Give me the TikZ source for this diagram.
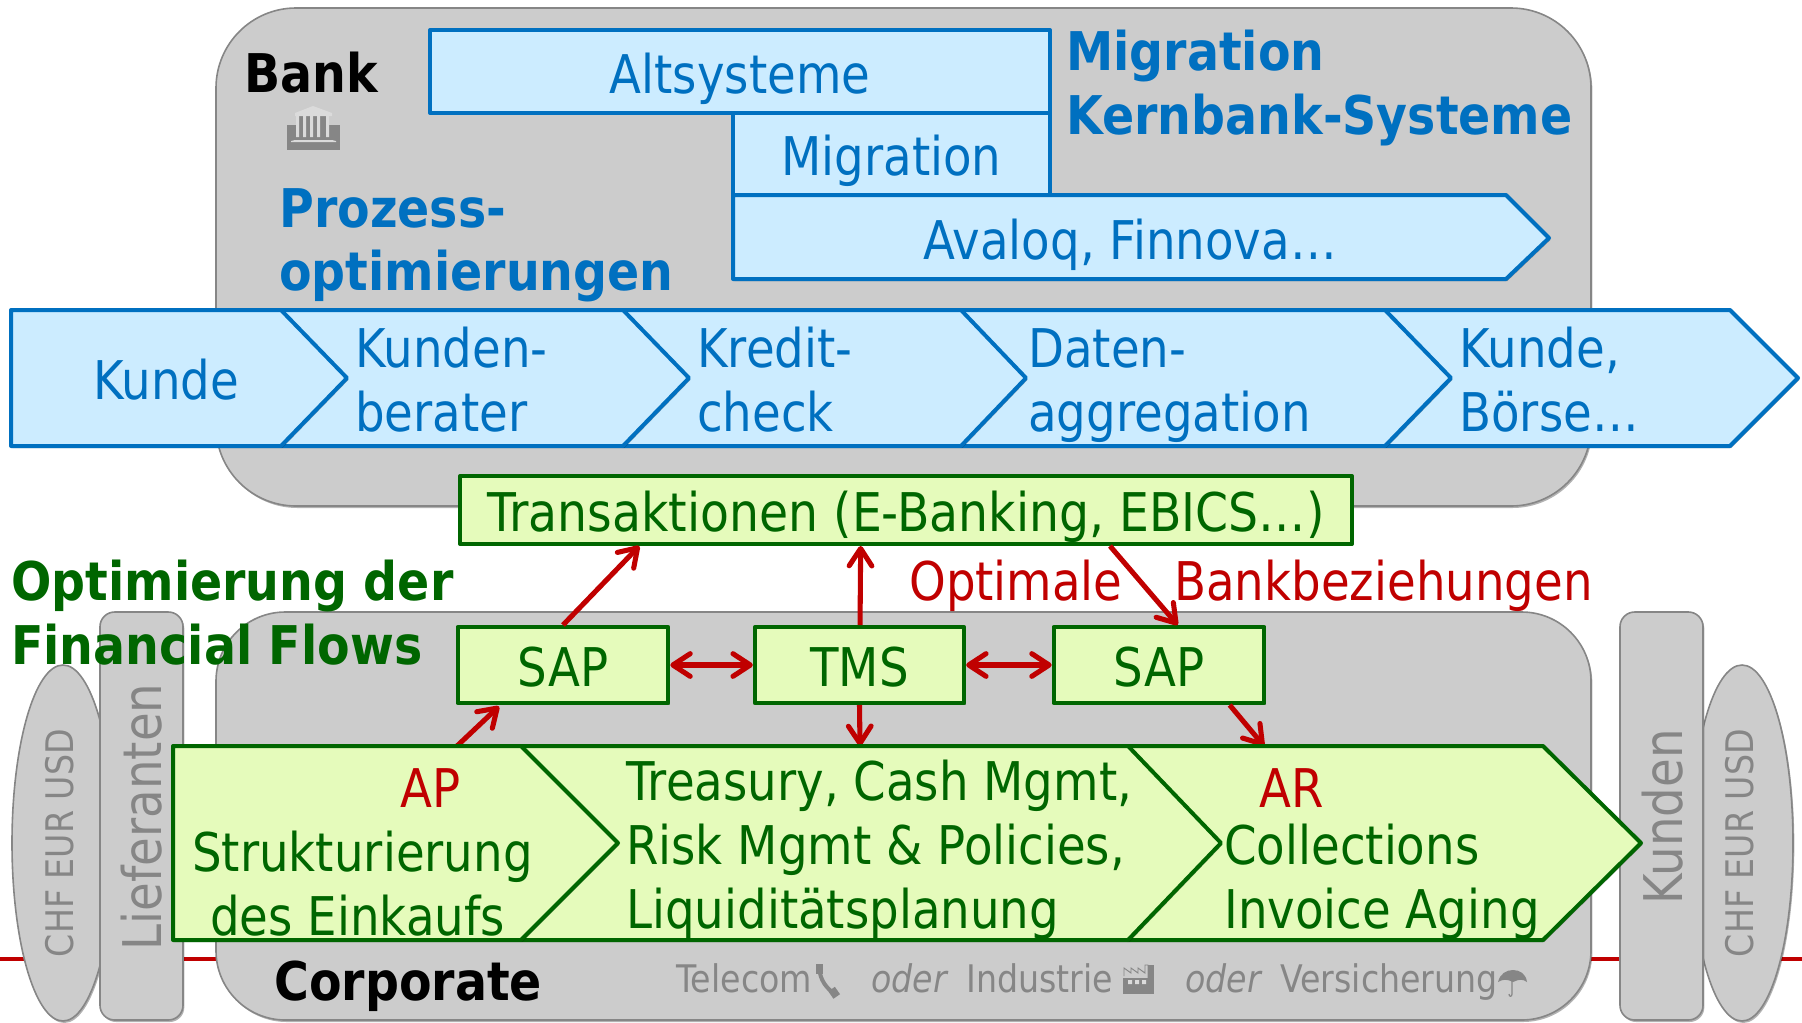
\documentclass[tikz,border=0pt]{standalone}
\usepackage{fontspec}
\setmainfont[FakeStretch=0.875,BoldFeatures={FakeStretch=0.89}]{DejaVu Sans}
\newfontfamily\widerfont[FakeStretch=0.887]{DejaVu Sans}
\usetikzlibrary{arrows.meta,shadows,calc}
\definecolor{cblue}{HTML}{0070C0}
\definecolor{fblue}{HTML}{CCECFF}
\definecolor{cgreen}{HTML}{006600}
\definecolor{fgreen}{HTML}{E5FBBB}
\definecolor{cgray}{HTML}{868686}
\definecolor{fgray}{HTML}{CCCCCC}
\definecolor{cred}{HTML}{C00000}
\tikzset{
  soft/.style={drop shadow={shadow xshift=1pt,shadow yshift=-1.5pt,opacity=.3,fill=black}},
  txt/.style={anchor=base west,inner sep=0pt,font=\fontsize{40}{48}\selectfont},
  txtc/.style={anchor=base,inner sep=0pt,font=\fontsize{40}{48}\selectfont},
  bold/.style={font=\fontsize{40}{48}\selectfont\bfseries},
  small/.style={font=\fontsize{28.5}{34}\selectfont},
  graybox/.style={draw=cgray,fill=fgray,line width=1.2pt},
  bluebox/.style={draw=cblue,fill=fblue,line width=3pt,soft,line join=round},
  greenbox/.style={draw=cgreen,fill=fgreen,line width=3pt,soft,line join=round},
  bluenode/.style={bluebox,rectangle,inner sep=0pt,text=cblue,font=\fontsize{40}{48}\selectfont,text height=34pt,text depth=1.7pt},
  greennode/.style={greenbox,rectangle,inner sep=0pt,text=cgreen,font=\fontsize{40}{48}\selectfont,text height=34pt,text depth=1.7pt},
  redline/.style={draw=cred,line width=3.8pt,-{Straight Barb[length=13pt,width=17pt,round,line width=3.8pt]}},
  redboth/.style={draw=cred,line width=3.8pt,{Straight Barb[length=13pt,width=17pt,round,line width=3.8pt]}-{Straight Barb[length=13pt,width=17pt,round,line width=3.8pt]}},
  vert/.style={inner sep=0pt,text=cgray,rotate=90,anchor=center}
}
\begin{document}
\begin{tikzpicture}[x=0.75pt,y=-0.75pt]
\useasboundingbox (0,0) rectangle (1802,1022);
% red horizon line
\draw[cred,line width=3pt] (0,959) -- (1802,959);
% big containers
\path[graybox,soft,rounded corners=60pt] (216,8) rectangle (1591,506);
\path[graybox,soft,rounded corners=52pt] (216,612) rectangle (1591,1020);
% side shapes
\path[graybox,soft] (63,843) ellipse [x radius=51,y radius=178];
\path[graybox,soft] (1742,843) ellipse [x radius=51,y radius=178];
\path[graybox,soft,rounded corners=11pt] (100,612) rectangle (183,1020);
\path[graybox,soft,rounded corners=11pt] (1620,612) rectangle (1703,1020);
% Bank top blocks
\node[bluenode,minimum width=465pt,minimum height=62pt] (alt) at (740,71.5) {Altsysteme};
\node[bluenode,minimum width=237.75pt,minimum height=61.5pt] (mig) at (891.5,154) {Migration};
\path[bluebox] (733,195) -- (1506,195) -- (1549,238) -- (1506,279) -- (733,279) -- cycle;
\node[txtc,text=cblue] (ava) at (1130,259) {Avaloq, Finnova…};
% labels
\node[txt,bold] (bank) at (244,92) {Bank};
\node[txt,bold,text=cblue] (pro1) at (279,227) {Prozess-};
\node[txt,bold,text=cblue] (pro2) at (279,290) {optimierungen};
\node[txt,bold,text=cblue] (mk1) at (1066,70) {Migration};
\node[txt,bold,text=cblue] (mk2) at (1066,134) {Kernbank-Systeme};
% bank icon
\fill[cgray] (287,125) rectangle (340,150);
\fill[fgray!70!white] (295,140) -- (332,140) -- (336,141) -- (336,142) -- (291,142) -- (291,141) -- cycle;
\fill[cgray] (297,116) rectangle (329,140);
\fill[fgray!70!white] (295,113) -- (313,106) -- (332,113) -- (332,116) -- (295,116) -- cycle;
\fill[fgray!70!white] (303,116) rectangle (306,137) (310,116) rectangle (313,137) (317,116) rectangle (320,137) (326,116) rectangle (329,137) (296,116) rectangle (299,137);
% process chain (later ones behind)
\path[bluebox] (1385,310) -- (1730,310) -- (1798,378) -- (1730,446) -- (1385,446) -- cycle;
\path[bluebox] (961,310) -- (1385,310) -- (1451,378) -- (1385,446) -- (961,446) -- cycle;
\path[bluebox] (623,310) -- (961,310) -- (1026,378) -- (961,446) -- (623,446) -- cycle;
\path[bluebox] (281,310) -- (623,310) -- (689,378) -- (623,446) -- (281,446) -- cycle;
\path[bluebox] (11,310) -- (281,310) -- (347,378) -- (281,446) -- (11,446) -- cycle;
\node[txt,text=cblue] (k1) at (93,399) {Kunde};
\node[txt,text=cblue] (k2a) at (355,367) {Kunden-};
\node[txt,text=cblue] (k2b) at (355,431) {berater};
\node[txt,text=cblue] (k3a) at (697,367) {Kredit-};
\node[txt,text=cblue] (k3b) at (697,431) {check};
\node[txt,text=cblue] (k4a) at (1028,367) {Daten-};
\node[txt,text=cblue] (k4b) at (1028,431) {aggregation};
\node[txt,text=cblue] (k5a) at (1459,367) {Kunde,};
\node[txt,text=cblue] (k5b) at (1459,431) {Börse…};
% coordinates on the lower chain
\coordinate (apTop) at (457,746);
\coordinate (tsTop) at (860,746);
\coordinate (arTop) at (1264,746);
% corporate boxes
\node[greennode,minimum width=669pt,minimum height=51pt] (trans) at (906,510) {\widerfont Transaktionen (E-Banking, EBICS…)};
\node[greennode,minimum width=158pt,minimum height=57pt] (sapa) at (563,665) {SAP};
\node[greennode,minimum width=157pt,minimum height=57pt] (tms) at (859.5,665) {TMS};
\node[greennode,minimum width=158pt,minimum height=57pt] (sapb) at (1159,665) {SAP};
% connectors
\draw[redline] (sapa.north) -- ([xshift=-200pt]trans.south);
\draw[redline] ([xshift=0.4pt]tms.north) -- ([xshift=-34pt]trans.south);
\draw[redline] ([xshift=153pt]trans.south) -- ([xshift=14pt]sapb.north);
\draw[redboth] (sapa.east) -- (tms.west);
\draw[redboth] (tms.east) -- (sapb.west);
\draw[redline] (apTop) -- ([yshift=-1pt,xshift=-48pt]sapa.south);
\draw[redline] (tms.south) -- (tsTop);
\draw[redline] ([xshift=53pt]sapb.south) -- (arTop);
% lower chain
\path[greenbox] (1128,746) -- (1543,746) -- (1641,843) -- (1543,940) -- (1128,940) -- cycle;
\path[greenbox] (521,746) -- (1128,746) -- (1221,843) -- (1128,940) -- (521,940) -- cycle;
\path[greenbox] (173,746) -- (521,746) -- (618,843) -- (521,940) -- (173,940) -- cycle;
\node[txt,text=cred] (ap) at (400,807) {AP};
\node[txt,text=cgreen] (st) at (192,871) {Strukturierung};
\node[txt,text=cgreen] (ei) at (210,935) {des Einkaufs};
\node[txt,text=cgreen] (tr) at (626,800) {Treasury, Cash Mgmt,};
\node[txt,text=cgreen] (ri) at (626,864) {Risk Mgmt \& Policies,};
\node[txt,text=cgreen] (li) at (626,928) {Liquiditätsplanung};
\node[txt,text=cred] (ar) at (1259,807) {AR};
\node[txt,text=cgreen] (co) at (1224,864) {Collections};
\node[txt,text=cgreen] (in) at (1224,928) {Invoice Aging};
% headings over the middle
\node[txt,bold,text=cgreen] (op1) at (11,600) {Optimierung der};
\node[txt,bold,text=cgreen] (op2) at (11,664) {Financial Flows};
\node[txt,text=cred] (opt) at (909,600) {Optimale};
\node[txt,text=cred] (bb) at (1174,600) {Bankbeziehungen};
% side labels
\node[vert,font=\fontsize{40}{48}\selectfont] (lief) at (142,817) {Lieferanten};
\node[vert,font=\fontsize{40}{48}\selectfont] (kund) at (1663,817) {Kunden};
\node[vert,small] (cl) at (60,843) {CHF EUR USD};
\node[vert,small] (cr) at (1740,843) {CHF EUR USD};
% bottom
\node[txt,bold] (corp) at (274,1000) {Corporate};
\node[txt,small,text=cgray] (te) at (676,992) {Telecom};
\node[txt,text=cgray,font=\fontsize{28.5}{34}\selectfont\itshape] (o1) at (871,992) {oder};
\node[txt,small,text=cgray] (ind) at (966,992) {Industrie};
\node[txt,text=cgray,font=\fontsize{28.5}{34}\selectfont\itshape] (o2) at (1185,992) {oder};
\node[txt,small,text=cgray] (ve) at (1280,992) {Versicherung};
% phone
\draw[cgray,line width=3pt,line cap=round] (819,967) .. controls (820,980) and (826,988) .. (835,994);
\fill[cgray] (816,964) rectangle (823,974);
\fill[cgray,rotate around={35:(835,994)}] (831,988) rectangle (839,997);
% factory
\fill[cgray] (1123,978) rectangle (1154,994);
\fill[fgray!70!white] (1128,980) rectangle (1132,984) (1135,980) rectangle (1139,984) (1142,980) rectangle (1146,984);
\draw[cgray,line width=.7pt] (1124,976) -- (1124,968) -- (1131,973) -- (1131,968) -- (1138,973) -- (1138,968) -- (1145,973) -- (1145,965) -- (1148,965) -- (1148,978);
\fill[cgray] (1148,965) rectangle (1154,978);
% umbrella
\fill[cgray] (1498,982) .. controls (1500,974) and (1506,970) .. (1513,970) .. controls (1520,970) and (1526,974) .. (1527,982) .. controls (1523,979) and (1519,979) .. (1513,982) .. controls (1507,979) and (1503,979) .. (1498,982) -- cycle;
\draw[cgray,line width=.9pt] (1512,980) -- (1512,994) .. controls (1512,997) and (1509,997) .. (1509,994);
\end{tikzpicture}
\end{document}
